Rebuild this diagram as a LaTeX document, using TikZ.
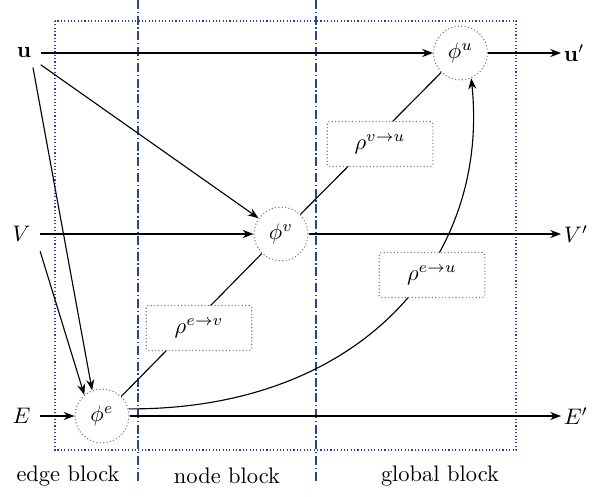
\documentclass[tikz,border=0pt]{standalone}
\usetikzlibrary{arrows.meta}
\definecolor{boxblue}{RGB}{40,60,200}
\definecolor{dashblue}{RGB}{35,70,150}
\begin{document}
\begin{tikzpicture}[x=0.445pt,y=-0.445pt,
  >={Stealth[length=4.8pt,width=3.6pt]}, line width=0.5pt,
  phinode/.style={circle, draw=gray, densely dotted, minimum size=24pt, inner sep=0pt},
  rhonode/.style={rectangle, draw=gray, densely dotted, rounded corners=1pt,
    minimum width=47pt, minimum height=20pt, fill=white},
  lab/.style={inner sep=4pt},
  rlab/.style={inner sep=1pt, anchor=west},
  conn/.style={->, black, solid},
  plain/.style={black, solid},
  sepline/.style={dashblue, line width=0.6pt, dash pattern=on 4pt off 1.2pt on 0.6pt off 1.2pt}]
\useasboundingbox (0,0) rectangle (592,497);
% frame and block separators
\draw[boxblue, densely dotted, line width=0.5pt] (55,21) rectangle (516,450);
\draw[sepline] (138,0) -- (138,482);
\draw[sepline] (316,0) -- (316,482);
% update functions
\node[phinode] (phiu) at (460.5,53) {$\phi^u$};
\node[phinode] (phiv) at (281,234) {$\phi^v$};
\node[phinode] (phie) at (102,416) {$\phi^e$};
% inputs and outputs
\node[lab] (u) at (24,53) {$\mathbf{u}$};
\node[lab] (V) at (21.5,234) {$V$};
\node[lab] (E) at (21.5,416) {$E$};
\node[rlab] (u2) at (561,53) {$\mathbf{u}'$};
\node[rlab] (V2) at (561,234) {$V'$};
\node[rlab] (E2) at (561,416) {$E'$};
% connectors
\draw[conn] (u) -- (phiu);
\draw[conn] (phiu) -- (u2);
\draw[conn] (u) -- (phiv);
\draw[conn] ([xshift=4pt]u.south) -- (phie.111);
\draw[conn] (V) -- (phiv);
\draw[conn] (phiv) -- (V2);
\draw[conn] (V.south east) -- (phie.130);
\draw[conn] (E) -- (phie);
\draw[conn] (phie) -- (E2);
\draw[plain] (phie) -- (phiv);
\draw[plain] (phiv) -- (phiu);
\draw[conn] (phie.15) .. controls (360,410) and (490,260) .. (phiu.-67);
% aggregation boxes
\node[rhonode] (rev) at (199,328) {$\rho^{e\rightarrow v}$};
\node[rhonode] (rvu) at (380,144) {$\rho^{v\rightarrow u}$};
\node[rhonode] (reu) at (432,275) {$\rho^{e\rightarrow u}$};
% block labels
\node (lbe) at (68,476) {edge block};
\node (lbn) at (227,476) {node block};
\node (lbg) at (440,476) {global block};
\end{tikzpicture}
\end{document}
